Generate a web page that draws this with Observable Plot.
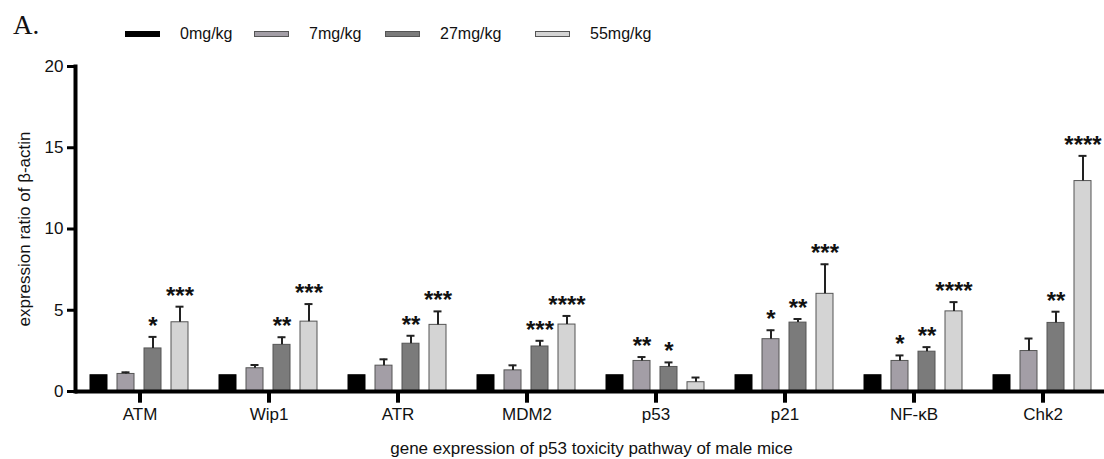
<!DOCTYPE html>
<html>
<head>
<meta charset="utf-8">
<script src="https://cdn.jsdelivr.net/npm/d3@7"></script>
<script src="https://cdn.jsdelivr.net/npm/@observablehq/plot@0.6"></script>
<style>
  body { margin: 0; background: #fff; font-family: "Liberation Sans", Arial, sans-serif; }
  #wrap { width: 1104px; height: 459px; position: relative; overflow: hidden; background: #fff; }
  #head { position: relative; height: 52px; }
  #tag { position: absolute; left: 13px; top: 12px; font-family: "Liberation Serif", "Times New Roman", serif; font-size: 27px; line-height: 1; color: #111; }
  .item { position: absolute; top: 26px; display: flex; align-items: center; font-size: 16px; line-height: 16px; color: #111; white-space: nowrap; }
  .sw { width: 35px; height: 6px; box-sizing: border-box; margin-right: 20px; }
  #chart svg { display: block; }
</style>
</head>
<body>
<div id="wrap">
  <div id="head"><div id="tag">A.</div></div>
  <div id="chart"></div>
</div>
<script>
// ---- data ----
const genes = ["ATM", "Wip1", "ATR", "MDM2", "p53", "p21", "NF-κB", "Chk2"];
const doses = ["0mg/kg", "7mg/kg", "27mg/kg", "55mg/kg"];
const doseColors = ["#000000", "#a39ea6", "#7b7b7b", "#d4d4d4"];
const doseOutline = ["#000000", "#555555", "#555555", "#555555"];

const mean0 = [1, 1, 1, 1, 1, 1, 1, 1];
const err0 = [0, 0, 0, 0, 0, 0, 0, 0];
const stars0 = ["", "", "", "", "", "", "", ""];

const mean7 = [1.08, 1.43, 1.59, 1.30, 1.88, 3.22, 1.88, 2.49];
const err7 = [0.10, 0.20, 0.39, 0.31, 0.24, 0.55, 0.34, 0.77];
const stars7 = ["", "", "", "", "**", "*", "*", ""];

const mean27 = [2.65, 2.87, 2.94, 2.77, 1.51, 4.24, 2.45, 4.22];
const err27 = [0.71, 0.47, 0.49, 0.35, 0.28, 0.22, 0.28, 0.69];
const stars27 = ["*", "**", "**", "***", "*", "**", "**", "**"];

const mean55 = [4.26, 4.30, 4.10, 4.12, 0.57, 6.01, 4.93, 12.95];
const err55 = [0.96, 1.08, 0.83, 0.53, 0.29, 1.82, 0.57, 1.55];
const stars55 = ["***", "***", "***", "****", "", "***", "****", "****"];

const yTicks = [0, 5, 10, 15, 20];
const yLabel = "expression ratio of β-actin";
const xLabel = "gene expression of p53 toxicity pathway of male mice";

// ---- legend ----
const legendLeft = [125, 254, 385, 535];
const head = document.getElementById("head");
doses.forEach((d, i) => {
  const item = document.createElement("div");
  item.className = "item";
  item.style.left = legendLeft[i] + "px";
  const sw = document.createElement("span");
  sw.className = "sw";
  sw.style.background = doseColors[i];
  sw.style.border = "1px solid " + doseOutline[i];
  const lab = document.createElement("span");
  lab.textContent = d;
  item.appendChild(sw);
  item.appendChild(lab);
  head.appendChild(item);
});

// ---- tidy rows ----
const series = [
  [mean0, err0, stars0],
  [mean7, err7, stars7],
  [mean27, err27, stars27],
  [mean55, err55, stars55]
];
const rows = [];
genes.forEach((g, gi) => {
  doses.forEach((d, di) => {
    const [m, e, s] = series[di];
    rows.push({gene: g, dose: d, mean: m[gi], err: e[gi], top: m[gi] + e[gi], star: s[gi]});
  });
});
const withErr = rows.filter(r => r.err > 0);
const withStar = rows.filter(r => r.star);

const chart = Plot.plot({
  width: 1104,
  height: 407,
  marginLeft: 72,
  marginRight: -6,
  marginTop: 14,
  marginBottom: 68,
  style: {fontFamily: "'Liberation Sans', Arial, sans-serif", fontSize: "16px", color: "#111", background: "#fff", overflow: "visible"},
  fx: {domain: genes, padding: 0},
  x: {domain: doses, paddingInner: 0.357, paddingOuter: 0.5, axis: null},
  y: {domain: [0, 20]},
  color: {domain: doses, range: doseColors},
  marks: [
    Plot.barY(rows.filter(r => r.dose === doses[0]), {fx: "gene", x: "dose", y: "mean", fill: "dose", stroke: doseOutline[0], strokeWidth: 1}),
    Plot.barY(rows.filter(r => r.dose !== doses[0]), {fx: "gene", x: "dose", y: "mean", fill: "dose", stroke: doseOutline[1], strokeWidth: 1}),
    Plot.ruleX(withErr, {fx: "gene", x: "dose", y1: "mean", y2: "top", stroke: "#222", strokeWidth: 2}),
    Plot.tickY(withErr, {fx: "gene", x: "dose", y: "top", stroke: "#222", strokeWidth: 2, insetLeft: 4.5, insetRight: 4.5}),
    Plot.text(withStar, {fx: "gene", x: "dose", y: "top", text: "star", lineAnchor: "bottom", dy: -3, fontSize: 24, fontWeight: "bold", fill: "#111"}),
    // category ticks below the axis line, at the centre of each gene group
    Plot.ruleX(genes, {fx: d => d, x: null, y1: 0, y2: -0.72, stroke: "#000", strokeWidth: 4}),
    Plot.ruleY([0], {stroke: "#000", strokeWidth: 4}),
    Plot.frame({anchor: "left", facetAnchor: "left", stroke: "#000", strokeWidth: 4}),
    Plot.axisY({ticks: yTicks, tickSize: 8, tickPadding: 4, stroke: "#000", strokeWidth: 3, fontSize: 17, label: yLabel, labelArrow: "none", labelAnchor: "center", labelOffset: 58}),
    Plot.axisFx({anchor: "bottom", tickSize: 0, tickPadding: 16, fontSize: 17, label: xLabel, labelArrow: "none", labelAnchor: "center", labelOffset: 62})
  ]
});
document.getElementById("chart").appendChild(chart);
</script>
</body>
</html>
